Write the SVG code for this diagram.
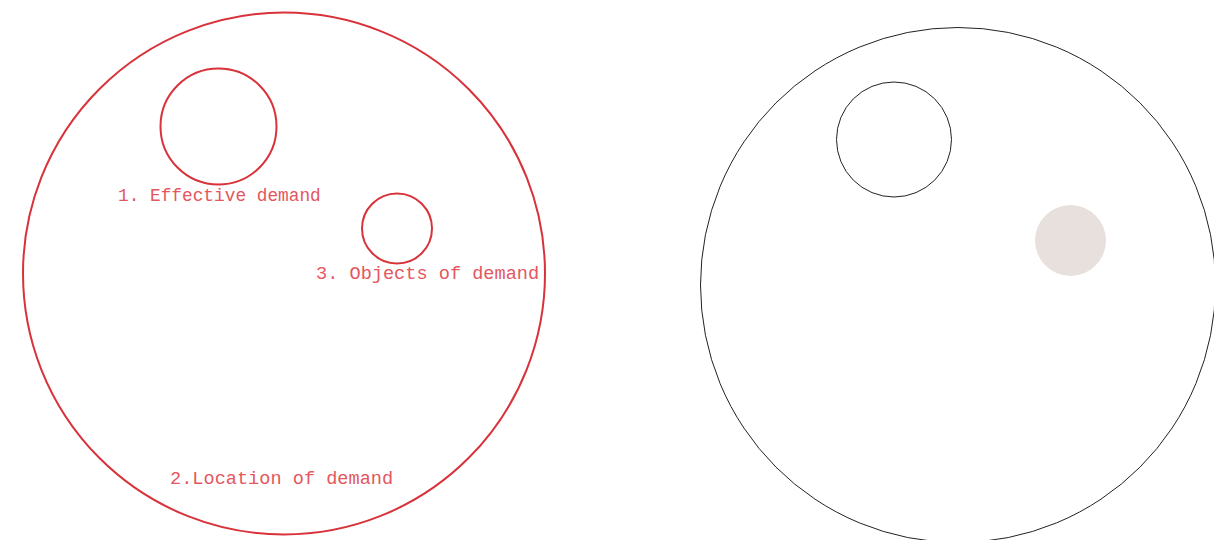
<svg xmlns="http://www.w3.org/2000/svg" width="1214" height="540" viewBox="0 0 1214 540">
<style>
.red{fill:none;stroke:#d8323a;stroke-width:2}
.blk{fill:none;stroke:#222;stroke-width:1}
.lbl{font-family:"Liberation Mono","Courier New",monospace;font-size:18.6px;fill:#e4575e}
</style>
<rect width="1214" height="540" fill="#fff"/>
<g id="left-outer"><circle class="red" cx="284" cy="273.5" r="261"/></g>
<g id="effective-demand"><circle class="red" cx="218.5" cy="126.5" r="58"/>
<text class="lbl" x="118" y="201" style="font-size:17.8px">1. Effective demand</text></g>
<g id="objects-of-demand"><circle class="red" cx="397" cy="228.5" r="35"/>
<text class="lbl" x="316" y="279">3. Objects of demand</text></g>
<g id="location-of-demand"><text class="lbl" x="170" y="484">2.Location of demand</text></g>
<g id="right-outer"><circle class="blk" cx="958" cy="285" r="257.5"/></g>
<g id="right-small"><circle class="blk" cx="894" cy="139.5" r="57.5"/></g>
<g id="right-filled"><circle cx="1070.5" cy="240.5" r="35.5" fill="#e7e0dc"/></g>
<g id="connectors"></g>
</svg>
